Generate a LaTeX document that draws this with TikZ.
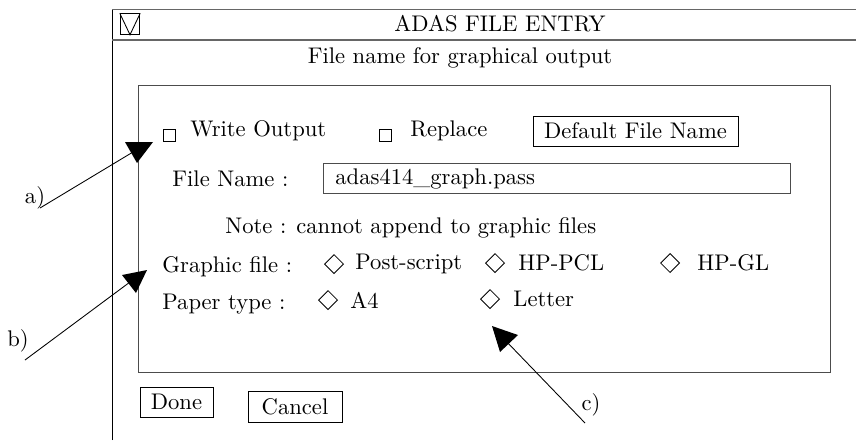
\documentclass[tikz,border=0pt]{standalone}
\usepackage{amssymb}
\usetikzlibrary{positioning,shapes.geometric}

\begin{document}
\begin{tikzpicture}[x=0.46pt, y=-0.46pt,
			every node/.append style={font=\fontsize{10.4}{12}\selectfont},
			framenode/.style={draw=black!60, line width=0.8pt},
			checknode/.style={rectangle, draw=black, thin, minimum size=5.5pt, inner sep=0pt},
			optnode/.style={diamond, draw=black, thin, aspect=1, minimum size=8.8pt, inner sep=0pt},
			textnode/.style={anchor=west, inner sep=0pt},
			buttonnode/.style={rectangle, draw=black, thin, inner sep=0pt},
		]
		
			\useasboundingbox (0,0) rectangle (856,440);
		
			%Window
			\draw[thin]	(112,440) -- (112,9.5);
			\draw[framenode]	(112,9.5) -- (856,9.5);
			\draw[framenode]	(112,40) -- (856,40);
			\node[rectangle, draw=black, thin, minimum width=9pt, minimum height=9.5pt, inner sep=0pt] (menu) at (130,24) {};
			\draw[thin]	(menu.north west) -- (menu.south) -- (menu.north east);
			\node (title)	at (500,24)	{ADAS FILE ENTRY};
			\node (sub)		at (460,58)	{File name for graphical output};
			\draw[draw=black!70, thin]	(138,85) rectangle (830,372);
		
			%Nodes
			\node[checknode]	(cwrite)	at (169,135)	{};
			\node[textnode]		(write)		at (190,131)	{Write Output};
			\node[checknode]	(crepl)		at (385,135)	{};
			\node[textnode]		(repl)		at (410,131)	{Replace};
			\node[buttonnode, minimum width=94.3pt, minimum height=13.8pt]	(deflt)	at (635.5,131)	{Default File Name};
		
			\node[textnode]		(fname)		at (172,179)	{File Name :};
			\draw[draw=black!70, thin]	(323,163) rectangle (790,193);
			\node[textnode]		(entry)		at (335,179)	{adas414\_graph.pass};
		
			\node[textnode]		(note)		at (225,228)	{Note : cannot append to graphic files};
		
			\node[textnode]		(gfile)		at (162,267)	{Graphic file :};
			\node[optnode]		(ops)		at (334,264)	{};
			\node[textnode]		(ps)		at (355,264)	{Post-script};
			\node[optnode]		(opcl)		at (495,263)	{};
			\node[textnode]		(pcl)		at (518,263)	{HP-PCL};
			\node[optnode]		(ogl)		at (670,263)	{};
			\node[textnode]		(gl)		at (697,263)	{HP-GL};
		
			\node[textnode]		(ptype)		at (162,304)	{Paper type :};
			\node[optnode]		(oafour)	at (328,300)	{};
			\node[textnode]		(afour)		at (350,300)	{A4};
			\node[optnode]		(olet)		at (490,299)	{};
			\node[textnode]		(let)		at (513,299)	{Letter};
		
			\node[buttonnode, minimum width=33.6pt, minimum height=13.8pt]	(done)		at (176.5,402)	{Done};
			\node[buttonnode, minimum width=43.2pt, minimum height=14.3pt]	(cancel)	at (295,406.5)	{Cancel};
		
			%Labels
			\node (la)	at (35,198)	{a)};
			\node (lb)	at (18,341)	{b)};
			\node (lc)	at (591,405)	{c)};
			\coordinate (a0) at (40,208);
			\coordinate (b0) at (25,360);
			\coordinate (c0) at (585,423);
			\coordinate (ta) at (137,163);
			\coordinate (tb) at (136,293);
			\coordinate (tc) at (492,326);
		
			%Lines
			\draw[thin]	(a0) -- (133,152);
			\fill	(ta) -- ++(-12,-21) -- ++(28,0) -- cycle;
			\draw[thin]	(b0) -- (130,282);
			\fill	(tb) -- ++(-14,-18) -- ++(25,-5) -- cycle;
			\draw[thin]	(c0) -- (505,340);
			\fill	(tc) -- ++(26,9) -- ++(-18,17) -- cycle;
		
		\end{tikzpicture}
\end{document}
